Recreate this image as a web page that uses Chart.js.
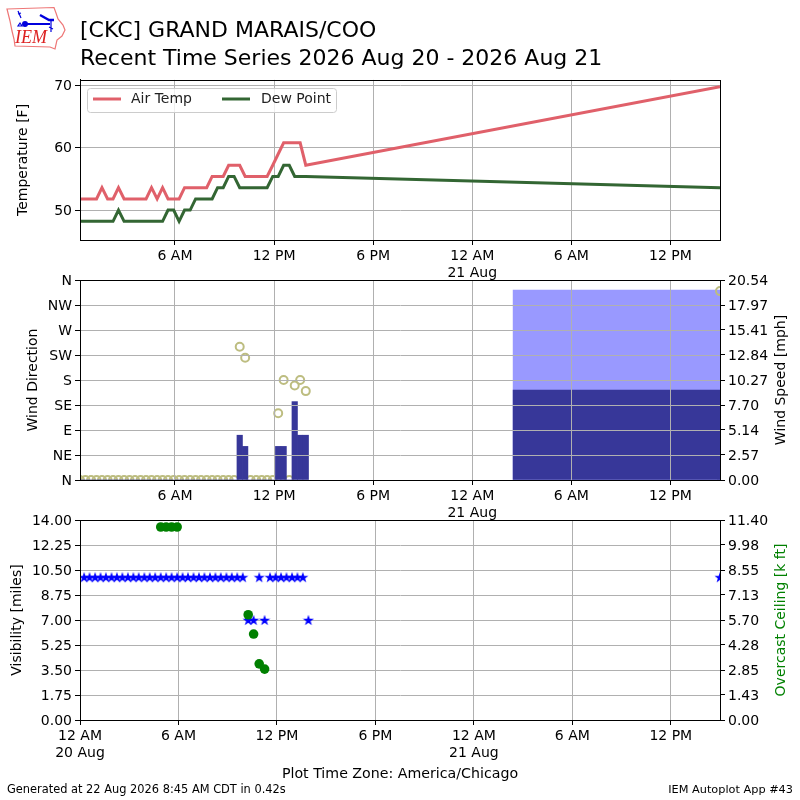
<!DOCTYPE html>
<html>
<head>
<meta charset="utf-8">
<title>CKC Recent Time Series</title>
<script src="https://cdn.jsdelivr.net/npm/chart.js@4"></script>
<style>
html,body{margin:0;padding:0;background:#fff;width:800px;height:800px;overflow:hidden;font-family:"DejaVu Sans",sans-serif}
canvas{position:absolute;left:0}
.foot{position:absolute;font-size:11.3px;color:#000;white-space:nowrap;line-height:13px}
#logo{position:absolute;left:0;top:0}
</style>
</head>
<body>
<canvas id="c1" width="800" height="282" style="top:0;width:800px;height:282px"></canvas>
<canvas id="c2" width="800" height="260" style="top:262px;width:800px;height:260px"></canvas>
<canvas id="c3" width="800" height="298" style="top:502px;width:800px;height:298px"></canvas>
<svg id="logo" width="75" height="55" viewBox="0 0 75 55">
  <polygon points="7,9 54,7.5 56,13 58,19 63,25 65,30 62,36 57,40 55,49 50,47 15,46 14,39 12,31 10,21" fill="#fff" stroke="#e77" stroke-width="1.2"/>
  <line x1="25" y1="24" x2="50" y2="24" stroke="#00d" stroke-width="2"/>
  <circle cx="25" cy="24" r="3" fill="#00d"/>
  <path d="M40 15 L49 20 L54 20" stroke="#00d" stroke-width="2.4" fill="none"/>
  <path d="M18 11 L21 18 M18 14 L21 13 M51 20 L51 32 M49 27 L53 29 M20 23 L18 26 L22 26 Z" stroke="#00d" stroke-width="1.2" fill="none"/>
  <text x="15" y="43" font-family="Liberation Serif" font-style="italic" font-size="18" fill="#d22">IEM</text>
</svg>
<div class="foot" style="left:7px;top:783px;font-size:11.4px">Generated at 22 Aug 2026 8:45 AM CDT in 0.42s</div>
<div class="foot" style="right:7px;top:783px">IEM Autoplot App #43</div>
<script>
// ---------- data (hours since 20 Aug 00:00 CDT) ----------
const hours = [0.25,0.58,0.92,1.25,1.58,1.92,2.25,2.58,2.92,3.25,3.58,3.92,4.25,4.58,4.92,5.25,5.58,5.92,6.25,6.58,6.92,7.25,7.58,7.92,8.25,8.58,8.92,9.25,9.58,9.92,10.25,10.58,10.92,11.25,11.58,11.92,12.25,12.58,12.92,13.25,13.58,13.92,39];
const airTemp = [51.8,51.8,51.8,51.8,53.6,51.8,51.8,53.6,51.8,51.8,51.8,51.8,51.8,53.6,51.8,53.6,51.8,51.8,51.8,53.6,53.6,53.6,53.6,53.6,55.4,55.4,55.4,57.2,57.2,57.2,55.4,55.4,55.4,55.4,55.4,57.2,59,60.8,60.8,60.8,60.8,57.2,69.8];
const dewPoint = [48.2,48.2,48.2,48.2,48.2,48.2,48.2,50,48.2,48.2,48.2,48.2,48.2,48.2,48.2,48.2,50,50,48.2,50,50,51.8,51.8,51.8,51.8,53.6,53.6,55.4,55.4,53.6,53.6,53.6,53.6,53.6,53.6,55.4,55.4,57.2,57.2,55.4,55.4,55.4,53.6];
const windDir = [0,0,0,0,0,0,0,0,0,0,0,0,0,0,0,0,0,0,0,0,0,0,0,0,0,0,0,0,0,240,220,0,0,0,0,0,120,180,0,170,180,160,340];
const windSpeed = [0,0,0,0,0,0,0,0,0,0,0,0,0,0,0,0,0,0,0,0,0,0,0,0,0,0,0,0,0,4.6,3.45,0,0,0,0,0,3.45,3.45,0,8.05,4.6,4.6,0];
const lastBarCenter = [32.74];
const lastBarSpeed = [9.24];
const lastBarGust = [19.5];
const visibility = [10,10,10,10,10,10,10,10,10,10,10,10,10,10,10,10,10,10,10,10,10,10,10,10,10,10,10,10,10,10,7,7,10,7,10,10,10,10,10,10,10,7,10];
const ceiling = [null,null,null,null,null,null,null,null,null,null,null,null,null,null,11,11,11,11,null,null,null,null,null,null,null,null,null,null,null,null,6,4.9,3.2,2.9,null,null,null,null,null,null,null,null,null];

const xTicksTop = [6,12,18,24,30,36];
const xTicksBottom = [0,6,12,18,24,30,36];
const xLabels = {0:['12 AM','20 Aug'],6:'6 AM',12:'12 PM',18:'6 PM',24:['12 AM','21 Aug'],30:'6 AM',36:'12 PM'};
const tempTicks = [50,60,70];
const dirTicks = [0,45,90,135,180,225,270,315,360];
const dirLabels = ['N','NE','E','SE','S','SW','W','NW','N'];
const speedTicks = [0,2.57,5.14,7.70,10.27,12.84,15.41,17.97,20.54];
const visTicks = [0,1.75,3.5,5.25,7,8.75,10.5,12.25,14];
const ceilTicks = [0,1.43,2.85,4.28,5.70,7.13,8.55,9.98,11.40];

// ---------- helpers ----------
const FONT = 'DejaVu Sans';
Chart.defaults.font.family = FONT;
Chart.defaults.font.size = 14;
Chart.defaults.color = '#000';
const GRID = '#b0b0b0';
const xy = (ys) => hours.map((h,i)=>({x:h,y:ys[i]}));
const setTicks = (list) => (scale) => { scale.ticks = list.map(v=>({value:v})); };
const fixW = (w) => (scale) => { scale.width = w; };
const fixH = (h) => (scale) => { scale.height = h; };

const gridOpt = (z) => ({color:GRID,lineWidth:1,tickLength:5,tickColor:'#000',z:z,offset:false});
// the border layer must come after the grid layer
const borderOpt = (z) => ({color:'#000',width:1,z:z+1});
const xScale = (min,list,h,z,extra) => Object.assign({
  type:'linear',min:min,max:39,offset:false,
  grid:gridOpt(z),
  border:borderOpt(z),
  ticks:{autoSkip:false,maxRotation:0,minRotation:0,padding:3,callback:(v)=>xLabels[v]},
  afterBuildTicks:setTicks(list),afterFit:fixH(h)
},extra||{});
const yLeft = (min,max,list,title,pad,cb,z) => ({
  type:'linear',position:'left',min:min,max:max,
  grid:gridOpt(z),border:borderOpt(z),
  ticks:{padding:3,labelOffset:1,callback:cb,autoSkip:false},
  title:{display:true,text:title,font:{size:14},padding:{top:pad,bottom:0}},
  afterBuildTicks:setTicks(list),afterFit:fixW(80)
});
const yRight = (max,list,title,color,offset) => ({
  type:'linear',position:'right',min:0,max:max,
  grid:{drawOnChartArea:false,tickLength:5,tickColor:'#000',offset:false},border:{color:'#000',width:1},
  ticks:{padding:3,labelOffset:1,callback:(v)=>v.toFixed(2),autoSkip:false},
  title:{display:false,text:title,color:color,font:{size:14}},
  rightTitleX:offset,
  afterBuildTicks:setTicks(list),afterFit:fixW(80)
});

// frame around the axes + right-hand titles reading bottom to top
const framePlugin = {id:'frame',afterDraw(chart){
  const a = chart.chartArea, c = chart.ctx;
  c.save();c.strokeStyle='#000';c.lineWidth=1;
  c.strokeRect(Math.round(a.left)+0.5,Math.round(a.top)+0.5,Math.round(a.right-a.left),Math.round(a.bottom-a.top));
  const s = chart.scales.y1;
  if(s){
    c.translate(s.options.rightTitleX,(a.top+a.bottom)/2);c.rotate(-Math.PI/2);
    c.textAlign='center';c.textBaseline='middle';c.font='14px "'+FONT+'"';
    c.fillStyle=s.options.title.color;c.fillText(s.options.title.text,0,0);
  }
  c.restore();
}};
// legend with two columns inside the axes
const legendPlugin = {id:'twoColLegend',afterDatasetsDraw(chart){
  const c = chart.ctx, ds = chart.data.datasets;
  c.save();
  c.beginPath();c.roundRect(87.5,88.5,249,24,3);
  c.fillStyle='rgba(255,255,255,0.8)';c.fill();
  c.strokeStyle='#cccccc';c.lineWidth=1;c.stroke();
  const spots=[[93,121,131],[222,250,261]];
  ds.forEach((d,i)=>{
    c.strokeStyle=d.borderColor;c.lineWidth=3;
    c.beginPath();c.moveTo(spots[i][0],99);c.lineTo(spots[i][1],99);c.stroke();
    c.fillStyle='#222';c.font='14px "'+FONT+'"';c.textBaseline='middle';c.textAlign='left';
    c.fillText(d.label,spots[i][2],99);
  });
  c.restore();
}};

// filled five-pointed star marker
function makeStar(){
  const n=document.createElement('canvas');n.width=12;n.height=12;
  const g=n.getContext('2d');g.fillStyle='#0000ff';g.beginPath();
  for(let i=0;i<10;i++){
    const r=i%2?2.3:5.8,t=-Math.PI/2+i*Math.PI/5;
    const px=6+r*Math.cos(t),py=6.5+r*Math.sin(t);
    i?g.lineTo(px,py):g.moveTo(px,py);
  }
  g.closePath();g.fill();return n;
}
const common = {responsive:false,animation:false,devicePixelRatio:1,events:[]};

// ---------- panel 1 ----------
new Chart(document.getElementById('c1'),{
  type:'line',
  data:{datasets:[
    {label:'Air Temp',data:xy(airTemp),borderColor:'#e0606a',borderWidth:3,pointRadius:0,tension:0},
    {label:'Dew Point',data:xy(dewPoint),borderColor:'#336633',borderWidth:3,pointRadius:0,tension:0}
  ]},
  plugins:[framePlugin,legendPlugin],
  options:Object.assign({},common,{
    layout:{padding:{right:80}},
    plugins:{legend:{display:false},tooltip:{enabled:false},
      title:{display:true,fullSize:false,align:'start',color:'#000',
        text:['[CKC] GRAND MARAIS/COO','Recent Time Series 2026 Aug 20 - 2026 Aug 21'],
        font:{size:22,weight:'normal',lineHeight:1.27},padding:{top:17,bottom:7}}},
    scales:{
      x:xScale(0.25,xTicksTop,42,0),
      y:yLeft(45.2,70.9,tempTicks,'Temperature [F]',15,(v)=>v,0)
    }
  })
});

// ---------- panel 2 ----------
new Chart(document.getElementById('c2'),{
  type:'line',
  data:{datasets:[
    {type:'bar',label:'Wind Speed',data:xy(windSpeed),yAxisID:'y1',backgroundColor:'#373799',barThickness:5.5,grouped:false},
    {label:'Wind Direction',data:xy(windDir),yAxisID:'y',showLine:false,clip:0,
     pointRadius:4,pointBorderWidth:2,pointBackgroundColor:'rgba(0,0,0,0)',pointBorderColor:'#bdbd80'},
    {type:'bar',label:'Wind Speed',data:[{x:lastBarCenter[0],y:lastBarSpeed[0]}],yAxisID:'y1',backgroundColor:'#373799',barThickness:207,grouped:false},
    {type:'bar',label:'Wind Gust',data:[{x:lastBarCenter[0],y:lastBarGust[0]}],yAxisID:'y1',backgroundColor:'#9999ff',barThickness:207,grouped:false}
  ]},
  plugins:[framePlugin],
  options:Object.assign({},common,{
    layout:{padding:{top:18}},
    plugins:{legend:{display:false},tooltip:{enabled:false}},
    scales:{
      x:xScale(0.25,xTicksTop,42,1),
      y:yLeft(0,360,dirTicks,'Wind Direction',25,(v)=>dirLabels[v/45],1),
      y1:yRight(20.54,speedTicks,'Wind Speed [mph]','#000',781)
    }
  })
});

// ---------- panel 3 ----------
new Chart(document.getElementById('c3'),{
  type:'line',
  data:{datasets:[
    {label:'Overcast Ceiling',data:xy(ceiling),yAxisID:'y1',showLine:false,clip:0,
     pointRadius:4.8,pointBorderWidth:0,pointBackgroundColor:'#008000',pointBorderColor:'#008000'},
    {label:'Visibility',data:xy(visibility),yAxisID:'y',showLine:false,clip:0,
     pointStyle:makeStar(),pointRadius:5}
  ]},
  plugins:[framePlugin],
  options:Object.assign({},common,{
    layout:{padding:{top:18}},
    plugins:{legend:{display:false},tooltip:{enabled:false}},
    scales:{
      x:xScale(0,xTicksBottom,80,0,{title:{display:true,text:'Plot Time Zone: America/Chicago',font:{size:14.2},padding:{top:0,bottom:17}}}),
      y:yLeft(0,14,visTicks,'Visibility [miles]',9,(v)=>v.toFixed(2),0),
      y1:yRight(11.4,ceilTicks,'Overcast Ceiling [k ft]','#008000',781)
    }
  })
});
</script>
</body>
</html>
